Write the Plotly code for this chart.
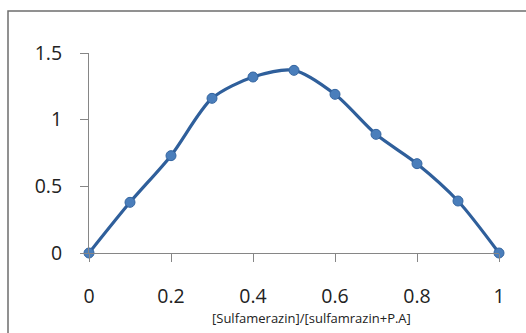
import plotly.graph_objects as go

# Mole-fraction series (Job's method)
mole_fraction = [0, 0.1, 0.2, 0.3, 0.4, 0.5, 0.6, 0.7, 0.8, 0.9, 1.0]
absorbance = [0, 0.38, 0.73, 1.16, 1.32, 1.37, 1.19, 0.89, 0.67, 0.39, 0]

x_ticks = [0, 0.2, 0.4, 0.6, 0.8, 1]
x_tick_text = ["0", "0.2", "0.4", "0.6", "0.8", "1"]
y_ticks = [0, 0.5, 1, 1.5]
y_tick_text = ["0", "0.5", "1", "1.5"]
x_title = "[Sulfamerazin]/[sulfamrazin+P.A]"

W, H = 526, 333
L, R, T, B = 89, 27, 53, 80
pw, ph = W - L - R, H - T - B


def px_to_paper_x(px):
    return (px - L) / pw


def px_to_paper_y(py):
    return (H - B - py) / ph


fig = go.Figure()
fig.add_trace(go.Scatter(
    x=mole_fraction, y=absorbance,
    mode="lines+markers",
    line=dict(color="#2F5F9B", width=3.2, shape="spline", smoothing=0.8),
    marker=dict(size=10, color="#4A7EBB", line=dict(color="#3465A0", width=1)),
    cliponaxis=False,
    showlegend=False,
))

font_family = "Open Sans, Liberation Sans, sans-serif"

fig.update_layout(
    width=W, height=H,
    margin=dict(l=L, r=R, t=T, b=B),
    paper_bgcolor="white", plot_bgcolor="white",
    xaxis=dict(
        range=[0, 1], tickvals=x_ticks, ticktext=x_tick_text,
        showgrid=False, zeroline=False, showline=True, linecolor="#868686", linewidth=1,
        ticks="outside", ticklen=8, tickcolor="#868686",
        tickfont=dict(family=font_family, size=19.5, color="#222222"),
        ticklabelstandoff=18,
    ),
    yaxis=dict(
        range=[0, 1.5], tickvals=y_ticks, ticktext=y_tick_text,
        showgrid=False, zeroline=False, showline=True, linecolor="#868686", linewidth=1,
        ticks="outside", ticklen=8, tickcolor="#868686",
        tickfont=dict(family=font_family, size=19.5, color="#222222"),
        ticklabelstandoff=14,
    ),
    annotations=[dict(
        text=x_title, xref="paper", yref="paper",
        x=px_to_paper_x(311), y=px_to_paper_y(318),
        showarrow=False, xanchor="center", yanchor="middle",
        font=dict(family=font_family, size=13, color="#222222"),
    )],
    shapes=[dict(
        type="rect", xref="paper", yref="paper",
        x0=px_to_paper_x(8), x1=px_to_paper_x(540),
        y0=px_to_paper_y(345), y1=px_to_paper_y(11),
        line=dict(color="#6E6E6E", width=1.5), fillcolor="rgba(0,0,0,0)",
        layer="below",
    )],
)

fig.write_html("out.html")
